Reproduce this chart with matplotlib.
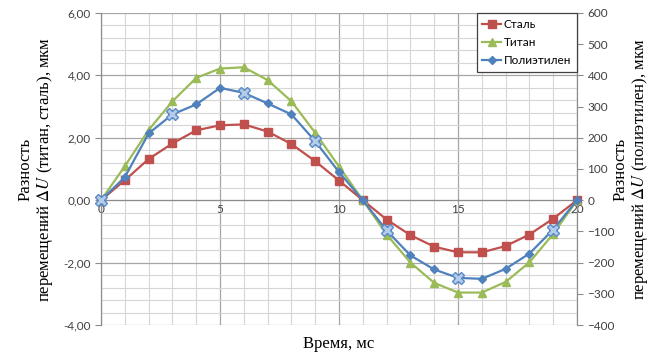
import numpy as np
import matplotlib
matplotlib.use("Agg")
import matplotlib.pyplot as plt
from matplotlib.ticker import MultipleLocator, FuncFormatter

# Data
t = list(range(0, 21))
steel = [0, 0.64, 1.32, 1.82, 2.24, 2.40, 2.43, 2.20, 1.80, 1.25, 0.63, 0,
         -0.62, -1.12, -1.49, -1.67, -1.67, -1.47, -1.10, -0.59, 0]
titan = [0, 1.09, 2.25, 3.17, 3.92, 4.22, 4.26, 3.85, 3.17, 2.16, 1.08, 0,
         -1.10, -2.00, -2.65, -2.96, -2.96, -2.62, -1.99, -1.08, 0]
poly = [0, 74, 214, 275, 307, 360, 344, 310, 275, 189, 90, 0,
        -97, -177, -222, -249, -252, -220, -171, -94, 0]
cross_idx = [0, 3, 6, 9, 12, 15, 19]

red, green, blue = "#c0504d", "#9bbb59", "#4f81bd"
tick_font = "Lato"
label_font = "Liberation Serif"
plt.rcParams["mathtext.fontset"] = "stix"

fig = plt.figure(figsize=(6.66, 3.55), dpi=100)
ax = fig.add_axes([0.1517, 0.0845, 0.7147, 0.8789])
ax2 = ax.twinx()

ax.set_xlim(0, 20)
ax.set_ylim(-4, 6)
ax2.set_ylim(-400, 600)

# grid
ax.xaxis.set_major_locator(MultipleLocator(5))
ax.xaxis.set_minor_locator(MultipleLocator(1))
ax.yaxis.set_major_locator(MultipleLocator(2))
ax.yaxis.set_minor_locator(MultipleLocator(0.4))
ax.grid(which="major", color="#a6a6a6", lw=0.9)
ax.grid(which="minor", color="#d6d6d6", lw=0.8)
ax.set_axisbelow(True)
ax2.yaxis.set_major_locator(MultipleLocator(100))

ax.yaxis.set_major_formatter(FuncFormatter(lambda v, p: f"{v:.2f}".replace(".", ",")))

for s in ["top"]:
    ax.spines[s].set_visible(False)
    ax2.spines[s].set_visible(False)
ax.spines["bottom"].set_position(("data", 0))
for a in (ax, ax2):
    for s in ["left", "right", "bottom"]:
        a.spines[s].set_color("#8c8c8c")
ax2.spines["bottom"].set_visible(False)

ax.tick_params(axis="x", which="both", length=0, pad=3, labelsize=8.5, labelcolor="#404040")
ax.tick_params(axis="y", which="major", length=4, labelsize=8.5, labelcolor="#404040")
ax.tick_params(axis="y", which="minor", length=0)
ax2.tick_params(axis="y", length=4, labelsize=8.5, labelcolor="#404040", color="#8c8c8c")
ax.tick_params(axis="y", color="#8c8c8c")
for lab in ax.get_xticklabels() + ax.get_yticklabels() + ax2.get_yticklabels():
    lab.set_fontfamily(tick_font)

# series
l1, = ax.plot(t, steel, color=red, lw=1.6, marker="s", ms=5.5, label="Сталь", clip_on=False, zorder=3)
l2, = ax.plot(t, titan, color=green, lw=1.6, marker="^", ms=5.5, label="Титан", clip_on=False, zorder=3)
l3, = ax2.plot(t, poly, color=blue, lw=1.6, marker="D", ms=4, label="Полиэтилен", clip_on=False, zorder=3)
ax2.plot([t[i] for i in cross_idx], [poly[i] for i in cross_idx], ls="none", marker="X", ms=9,
         mfc="#b4cbe9", mec="#5b8cc8", mew=1.0, clip_on=False, zorder=4)

ax.set_xlabel("Время, мс", fontfamily=label_font, fontsize=12)
ax.xaxis.set_label_coords(0.5, -0.035, transform=ax.transAxes)
ax.xaxis.label.set_va("top")
ax.set_ylabel("Разность\nперемещений $\\Delta U$ (титан, сталь), мкм",
              fontfamily=label_font, fontsize=12, labelpad=6, linespacing=1.1)
ax2.set_ylabel("Разность\nперемещений $\\Delta U$ (полиэтилен), мкм",
               fontfamily=label_font, fontsize=12, labelpad=-2, linespacing=1.1)

leg = ax2.legend(handles=[l1, l2, l3], loc="upper right", borderaxespad=0, fancybox=False,
                 framealpha=1, edgecolor="#404040", handlelength=1.6, handletextpad=0.2,
                 prop={"family": tick_font, "size": 8.5}, borderpad=0.5, labelspacing=0.6)
leg.get_frame().set_linewidth(0.9)

fig.savefig("out.png", dpi=100)
